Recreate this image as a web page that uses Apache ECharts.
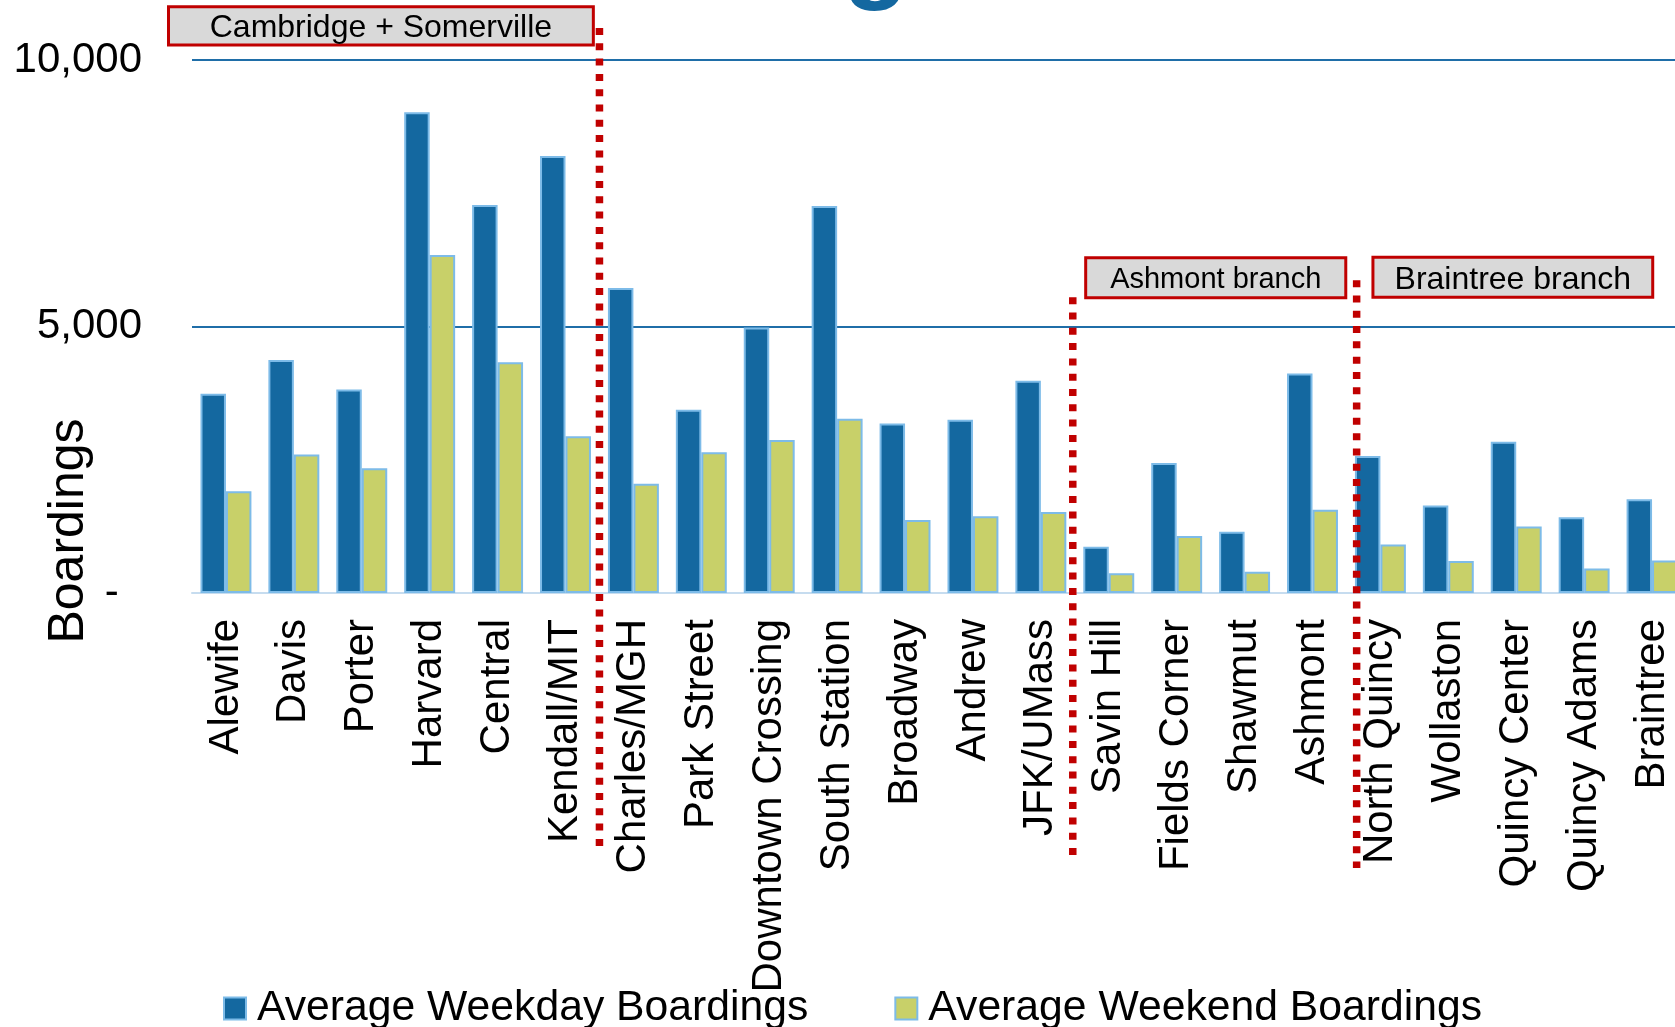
<!DOCTYPE html>
<html><head><meta charset="utf-8">
<script src="https://cdn.jsdelivr.net/npm/echarts@6/dist/echarts.min.js"></script>
<style>html,body{margin:0;padding:0;background:#fff;overflow:hidden}#c{width:1700px;height:1027px}</style>
</head><body><div id="c"></div>
<script>
const stations = ['Alewife','Davis','Porter','Harvard','Central','Kendall/MIT','Charles/MGH','Park Street','Downtown Crossing','South Station','Broadway','Andrew','JFK/UMass','Savin Hill','Fields Corner','Shawmut','Ashmont','North Quincy','Wollaston','Quincy Center','Quincy Adams','Braintree'];
const weekday = [3740,4370,3820,9020,7280,8200,5720,3440,4980,7260,3180,3250,3980,870,2440,1150,4120,2570,1640,2840,1420,1760];
const weekend = [1910,2600,2340,6340,4330,2940,2050,2640,2870,3270,1370,1440,1520,370,1070,400,1560,910,600,1250,460,610];
const seriesNames = ['Average Weekday Boardings','Average Weekend Boardings'];
const yMin = 0, yMax = 10000, yStep = 5000;
const groupLabels = ['Cambridge + Somerville','Ashmont branch','Braintree branch'];
const axisTitle = 'Boardings';

const FONT = "'Liberation Sans', Arial, sans-serif";
const chart = echarts.init(document.getElementById('c'), null, {renderer:'canvas'});
chart.setOption({
  animation:false,
  backgroundColor:'#fff',
  textStyle:{fontFamily:FONT},
  grid:{left:192, right:14, top:60, bottom:434, containLabel:false},
  legend:{
    data:seriesNames, left:218, top:982, icon:'rect', itemWidth:22, itemHeight:22, itemGap:86,
    textStyle:{fontSize:42.7, color:'#000', fontFamily:FONT, padding:[0,0,0,6]}
  },
  xAxis:{
    type:'category', data:stations,
    axisTick:{show:false},
    axisLine:{lineStyle:{color:'#c6dcef', width:2}},
    axisLabel:{rotate:90, interval:0, fontSize:42, color:'#000', margin:26, fontFamily:FONT}
  },
  yAxis:{
    type:'value', min:yMin, max:yMax, interval:yStep,
    axisLine:{show:false}, axisTick:{show:false},
    splitLine:{show:true, showMinLine:false, lineStyle:{color:'#1f6ea8', width:2}},
    axisLabel:{fontSize:42, color:'#000', margin:50, fontFamily:FONT,
      formatter:v => v === 0 ? '-  ' : v.toLocaleString('en-US')}
  },
  series:[
    {name:seriesNames[0], type:'bar', data:weekday, barGap:'0%', barCategoryGap:'25%',
     itemStyle:{color:'#1468a0', borderColor:'#7dbbe8', borderWidth:2}},
    {name:seriesNames[1], type:'bar', data:weekend, barGap:'0%', barCategoryGap:'25%',
     itemStyle:{color:'#c8d069', borderColor:'#7dbbe8', borderWidth:2}}
  ]
});

// annotation layout in category units (0 = left edge of first category) and axis values
const dividers = [{at:6.0, from:10600, to:-4780},{at:12.97, from:5550, to:-4950},{at:17.15, from:5870, to:-5160}];
const boxes = [
  {label:0, x0:-0.346, x1:5.91, top:11000, bottom:10280, fs:32},
  {label:1, x0:13.16, x1:16.99, top:6290, bottom:5540, fs:29},
  {label:2, x0:17.39, x1:21.51, top:6300, bottom:5550, fs:32}
];
const c0 = chart.convertToPixel({xAxisIndex:0}, stations[0]);
const c1 = chart.convertToPixel({xAxisIndex:0}, stations[1]);
const bw = c1 - c0;
const xPix = f => c0 - bw/2 + f*bw;
const yPix = v => chart.convertToPixel({yAxisIndex:0}, v);

const graphics = [];
dividers.forEach(d => {
  graphics.push({type:'line', z:100, shape:{x1:xPix(d.at), y1:yPix(d.from), x2:xPix(d.at), y2:yPix(d.to)},
    style:{stroke:'#c00000', lineWidth:7.5, lineDash:[7,8.3]}});
});
boxes.forEach(b => {
  const x0 = xPix(b.x0), x1 = xPix(b.x1), y0 = yPix(b.top), y1 = yPix(b.bottom);
  graphics.push({type:'rect', z:101, shape:{x:x0, y:y0, width:x1-x0, height:y1-y0},
    style:{fill:'#d9d9d9', stroke:'#c00000', lineWidth:3}});
  graphics.push({type:'text', z:102, x:(x0+x1)/2, y:(y0+y1)/2 + b.fs*0.08,
    style:{text:groupLabels[b.label], fontSize:b.fs, fontFamily:FONT, fill:'#000', align:'center', verticalAlign:'middle'}});
});
graphics.push({type:'text', z:102, x:69, y:531, rotation:Math.PI/2,
  style:{text:axisTitle, fontSize:50, fontFamily:FONT, fill:'#000', align:'center', verticalAlign:'middle'}});
graphics.push({type:'text', z:102, x:876, y:13, 
  style:{text:'g', fontSize:108, fontWeight:'bold', fontFamily:FONT, fill:'#1468a0', align:'center', verticalAlign:'bottom'}});
chart.setOption({graphic:graphics});
</script>
</body></html>
